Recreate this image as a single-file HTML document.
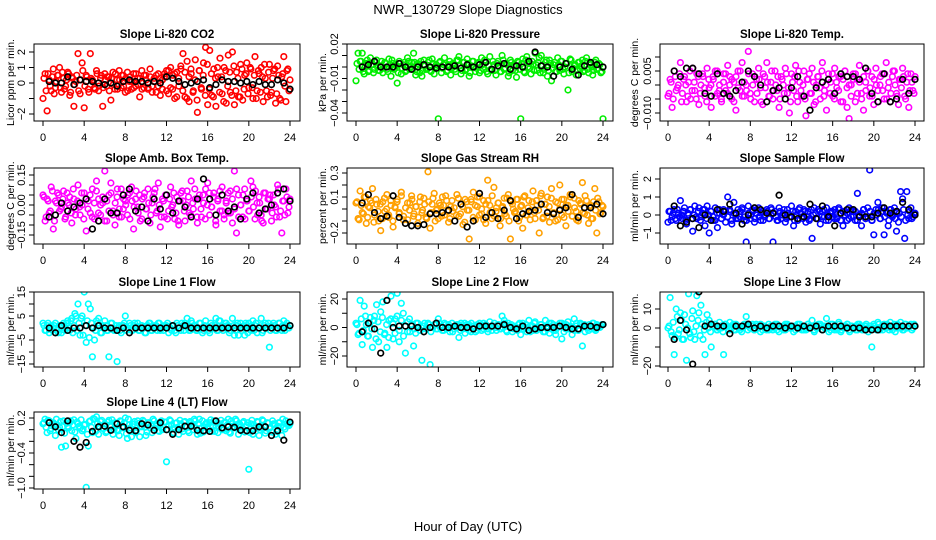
<!DOCTYPE html>
<html><head><meta charset="utf-8"><title>NWR_130729 Slope Diagnostics</title>
<style>
html,body{margin:0;padding:0;background:#fff;}
svg{display:block;font-family:"Liberation Sans",sans-serif;}
</style></head>
<body>
<svg id="chart" width="936" height="540" viewBox="0 0 936 540" xmlns="http://www.w3.org/2000/svg">
<text x="468" y="14" text-anchor="middle" font-size="13">NWR_130729  Slope Diagnostics</text>
<text x="468" y="531" text-anchor="middle" font-size="13">Hour of Day (UTC)</text>
</svg>
<script>
// ---- data (colored every ~0.2 h, black every 0.6 h) ----
const xTicks = [0,4,8,12,16,20,24];

const co2All = [-1.0,0.6,-1.8,0.2,-0.5,0.9,-0.3,0.5,1.0,-0.6,0.3,-0.2,0.7,-0.8,0.4,-1.5,0.1,1.9,-0.7,1.3,-1.6,0.5,-0.4,1.9,0.2,-0.3,0.8,-0.5,0.3,-1.5,0.6,-0.2,0.4,-1.1,0.7,-0.4,0.2,0.8,-0.3,0.5,-0.6,0.7,0.1,-0.4,0.6,-0.2,0.3,-0.9,0.8,-0.3,0.5,-0.4,0.9,-0.2,0.3,-0.6,0.6,-0.8,0.2,0.4,-0.5,0.8,-0.3,0.5,-1.0,0.7,-0.2,0.9,1.9,-0.9,1.4,-1.2,0.6,-0.5,1.5,-1.9,0.8,-0.4,1.3,2.3,-1.4,2.1,-0.8,0.9,-1.5,0.4,1.6,-0.7,1.0,-1.3,1.8,-0.6,2.0,-1.4,0.7,-0.9,1.2,-1.1,0.5,1.3,-0.3,0.9,-1.0,1.7,-0.5,0.6,1.0,-1.2,0.3,-0.9,1.2,-0.6,0.8,-1.3,1.1,-1.0,0.4,1.7,-1.2,0.9,0.2];
const co2Band = [0.3,-0.5,0.6,-0.2,0.4,-0.7,0.1,0.5,-0.3,0.7,-0.4,0.2,0.6,-0.6,0.3,-0.1,0.5,-0.5,0.2,0.8,-0.2,0.4,-0.6,0.3,0.1,-0.4,0.6,-0.2,0.5,-0.3,0.2,0.4,-0.5,0.3,-0.1,0.6,-0.4,0.2,0.5,-0.2,0.3,-0.5,0.4,0.1,-0.3,0.6,-0.1,0.3,-0.4,0.5,0.2,-0.3,0.4,-0.6,0.1,0.5,-0.2,0.3,-0.4,0.6,0.8,-0.7,1.0,-0.4,0.6,-0.9,0.3,1.1,-0.5,0.7,-1.0,0.4,0.9,-0.6,0.2,-1.1,0.8,-0.3,0.5,-0.8,1.2,-0.4,0.6,-0.9,0.3,1.0,-0.6,0.4,-1.2,0.8,-0.2,0.7,-0.8,1.1,-0.5,0.3,-0.9,0.9,-0.4,0.6,-0.7,1.0,-0.3,0.5,-1.0,0.8,-0.6,0.4,1.2,-0.5,0.7,-0.8,0.3,0.9,-0.7,0.5,-1.1,0.6,-0.2,0.8,-0.5];
const co2Sel = [0.1,0.0,0.0,0.4,-0.1,0.2,0.1,0.1,0.0,-0.1,0.0,-0.2,0.1,0.2,0.1,0.1,0.0,0.1,0.0,0.4,0.3,0.1,-0.1,0.0,0.1,0.2,-0.3,-0.1,0.2,0.1,0.1,0.0,0.1,-0.1,0.1,-0.1,-0.1,0.2,0.0,-0.4];

const presAll = [-12,12,5,12,-6,3,-4,8,2,-2,6,-3,1,-5,4,-2,7,-8,3,-1,-14,5,-6,2,-4,8,-2,4,12,-7,3,-5,-8,6,-2,4,-3,7,-6,2,-45,5,-1,8,-4,2,-7,3,-2,6,9,-6,4,-3,7,-8,1,5,-4,3,-5,8,-2,4,-6,9,-3,2,-7,5,-4,10,-2,3,-8,6,-3,1,-9,4,-45,7,-5,9,3,-6,2,12,-3,8,10,-5,4,-8,6,-12,2,-4,8,-3,5,-6,3,-20,7,-4,1,-7,4,-2,6,-3,8,-5,2,-7,4,-2,3,-5,-45];
const presBand = [3,-2,5,-4,1,6,-3,2,-5,4,0,-3,5,-1,3,-4,2,6,-2,1,-5,3,-1,4,-3,5,0,-2,4,-4,2,5,-3,1,-2,6,-4,3,0,-1,4,-5,2,3,-3,5,-1,2,-4,6,1,-3,4,-2,3,-5,5,0,-1,4,-3,2,6,-4,1,-2,5,-3,3,0,-4,6,-1,2,-5,4,1,-3,5,-2,3,-4,6,0,-1,5,-3,2,4,-5,1,-2,6,-3,3,-1,4,-4,2,5,-2,0,3,-5,6,-1,2,-3,4,1,-4,5,-2,3,0,-3,6,-1,2,-4];
const presSel = [0,2,5,0,0,0,3,0,-2,0,2,0,-1,0,0,1,-1,2,0,2,4,-2,1,3,-2,1,0,5,13,1,0,-8,0,3,-2,-7,1,4,2,0];

const tempAll = [-4,2,-8,5,-2,0,8,-3,3,-6,1,-5,6,-2,4,-7,0,3,-4,6,-1,-8,2,5,-3,0,-6,4,-2,7,3,-5,1,-9,5,-2,8,-4,0,12,-3,4,-6,2,6,-1,-7,3,8,-4,1,-5,5,-2,-8,3,0,6,-3,-10,4,-2,7,-6,1,-4,5,-11,2,-3,6,-7,0,3,-5,8,-2,-9,4,1,-4,6,-1,3,-6,2,5,-8,-12,0,4,-6,2,7,-3,-9,1,5,-4,3,-7,6,-2,0,4,-5,8,-1,-6,3,5,-3,-7,2,6,-4,1,-8,4,-2,3];
const tempBand = [-3,1,-5,3,-1,4,-6,2,0,-4,5,-2,1,-5,3,-3,4,-1,-6,2,0,3,-4,5,-2,-5,1,4,-3,0,2,-6,3,-1,5,-4,1,-2,4,-5,0,3,-3,2,-6,4,-1,1,-4,5,-2,0,3,-5,2,-3,4,-1,-6,1,3,-4,5,-2,0,-5,2,4,-3,1,-6,3,-1,5,-4,0,2,-3,4,-5,1,-2,3,-6,5,-1,0,-4,2,4,-3,1,-5,3,-2,5,-1,-4,2,0,-6,3,-2,4,-5,1,-3,5,0,-4,2,-1,3,-5,4,-2,1,-3];
const tempSel = [5,3,6,6,4,-3,-4,4,-3,-4,-2,1,5,3,0,-6,-2,-1,-5,-1,3,-4,-9,-1,1,2,-3,4,3,3,2,6,-3,-6,4,-6,-5,2,-3,2];

const ambAll = [5,-8,3,-4,9,-12,2,6,-3,-1,7,-6,1,4,-9,3,-2,10,-5,0,6,-13,2,-4,8,-7,12,3,-5,1,17,-8,5,11,-3,-10,4,-6,8,-2,2,-5,6,9,-12,3,-1,5,-7,4,-2,8,-9,1,6,-4,11,-11,3,-6,5,-3,9,0,-7,4,-10,6,2,-8,7,-4,12,-2,3,-9,5,-6,1,8,11,-5,-1,6,-10,3,-3,9,-7,2,-4,7,-9,17,-14,5,0,-6,8,2,-3,12,9,-7,1,4,-5,-9,6,-2,3,-8,5,-1,10,-6,-14,2,8,-4,3];
const ambBand = [4,-6,2,-3,7,-8,1,5,-2,3,-7,6,0,-4,8,-5,2,-1,6,-7,3,-2,5,-6,1,7,-4,0,4,-8,2,-3,6,-5,1,8,-2,-6,3,0,5,-7,2,-1,7,-4,-8,3,6,-2,1,-5,4,8,-3,0,-6,2,5,-7,3,-1,6,-4,-8,2,7,-3,0,4,-5,1,8,-6,3,-2,5,-7,0,6,-1,4,-8,2,7,-3,-5,1,6,-4,3,-2,8,-6,0,5,-7,2,-3,4,-1,7,-5,1,-8,6,-2,3,5,-4,0,-6,8,-3,2,-5,4,-1];
const ambSel = [-6,-5,1,-3,-1,1,3,-12,-8,3,-4,-4,5,8,-3,-1,-8,3,-2,5,-4,2,-1,-6,3,13,3,-5,5,-3,-1,-7,3,6,-4,-2,0,6,8,2];

const rhAll = [5,-8,15,-3,10,-12,2,7,17,-5,4,-10,-18,6,-2,12,-7,3,-15,1,8,-4,14,-9,-35,5,-1,11,-6,2,-12,6,-3,9,-7,31,-16,4,13,-1,-8,3,10,-5,7,-11,2,-2,-35,12,-6,4,-13,8,-1,-25,6,14,-9,2,10,-4,7,-12,24,3,-8,18,-2,5,-14,1,9,-6,12,-25,4,-3,8,-10,2,-16,11,-5,7,-1,15,-8,3,-20,13,-7,4,10,-11,17,-3,6,-9,20,-5,8,-14,3,12,-6,9,-2,-10,5,22,-4,7,-12,3,-8,17,-20,6,-3,2];
const rhBand = [6,-9,3,-4,10,-7,1,5,-11,8,-2,4,-8,9,0,-5,7,-10,2,6,-3,11,-6,1,-9,5,8,-4,2,-7,10,-1,4,-8,6,-3,9,-10,0,5,-6,3,11,-2,-8,7,1,-5,9,-4,2,-11,6,-1,8,-7,3,10,-5,0,-9,4,7,-3,11,-6,1,5,-8,2,-4,9,-10,6,0,-2,8,-7,3,10,-5,1,-9,6,-3,7,-1,11,-8,4,-6,2,9,-4,-10,5,0,8,-7,3,-2,10,-6,1,-9,7,4,-3,11,-5,2,-8,6,-1,9,-4,3];
const rhSel = [5,12,-3,-8,-6,11,-7,-12,-14,-14,-13,-4,-4,-3,-1,-10,4,-15,-10,13,-7,-3,-8,-1,7,-8,-4,-2,-1,4,-3,-4,-1,1,12,-7,1,1,4,-4];

const sflowAll = [-4,2,-1,3,-3,1,8,-2,4,-5,0,3,-9,5,-2,4,-1,3,-6,5,-10,2,-3,4,-7,1,-2,3,-4,10,2,-5,7,-2,3,-1,4,-3,-15,5,-2,3,-4,1,4,-3,2,-1,3,-2,4,-15,2,-3,4,-2,1,-4,3,-1,5,-6,2,-3,4,-1,3,-4,2,-2,-13,4,-2,3,-5,2,-1,4,-3,2,-1,3,-2,4,-3,-6,2,-3,4,-1,2,-3,12,-1,-6,3,-2,4,25,-3,-11,3,7,-2,4,-11,2,-6,3,-1,4,-9,-4,13,9,-13,13,-2,4,-1,1];
const sflowBand = [2,-3,1,-2,3,-1,0,2,-3,1,3,-2,0,-1,2,-3,1,3,-2,0,2,-1,-3,1,3,-2,0,2,-1,3,-3,1,0,-2,2,3,-1,-3,1,0,2,-2,3,-1,1,-3,0,2,-2,3,1,-1,-3,2,0,3,-2,1,-1,2,-3,0,3,1,-2,2,-1,-3,3,0,1,-2,2,-1,3,-3,0,1,2,-2,-1,3,-3,2,0,1,-2,3,-1,2,-3,0,1,3,-2,-1,2,-3,1,0,3,-2,2,-1,1,-3,3,0,-2,2,1,-1,3,-3,0,2,-2,1];
const sflowSel = [5,-6,-4,-2,-7,0,-3,3,2,6,1,-5,0,4,3,1,1,11,0,-1,-2,-1,6,-2,5,-1,-6,1,3,3,-1,-1,-1,1,4,1,2,7,3,0];

const l1All = [2,-1,1,-2,1,0,2,-1,1,-2,2,0,3,-1,4,1,5,10,-3,5,15,-6,10,8,-12,-5,3,4,-2,1,3,-1,-12,2,0,-1,-14,1,-2,1,5,0,2,-1,1,0,2,-1,1,0,-2,1,2,-1,0,1,2,-1,0,1,1,-2,0,1,-1,2,0,-1,1,2,4,-1,3,0,1,-1,2,0,-1,3,0,-2,1,0,4,-1,3,1,0,2,1,-1,4,-3,1,-3,2,0,-3,1,2,-1,3,1,-2,0,4,-1,2,0,-8,1,2,-1,0,2,-1,3,1,0,1];
const l1Band = [1,-1,2,0,-1,1,0,-2,1,1,-1,2,0,3,-2,6,-1,2,4,-3,1,3,-4,2,0,-1,2,1,-2,0,1,-1,0,2,-1,1,0,-1,1,2,-1,0,1,-1,2,0,-1,1,0,-2,1,2,-1,0,1,-1,2,0,-1,1,2,0,-1,1,-2,1,0,2,-1,1,0,-1,2,1,-1,0,2,-2,1,0,-1,2,0,1,-1,3,0,-1,2,1,-2,0,1,-1,2,0,-1,1,2,-2,0,1,-1,2,0,1,-2,1,0,2,-1,0,1,-1,2,0,1,-1,2,0];
const l1Sel = [0,-2,1,-1,0,0,1,0,1,0,0,-1,0,-2,0,0,0,0,0,0,1,0,1,0,0,0,0,0,0,0,0,0,0,0,0,0,0,0,0,1];

const l2All = [3,-5,19,-12,15,2,-6,7,-14,8,16,-10,11,18,-4,-14,5,22,-8,6,24,-10,17,10,-18,-3,6,2,-13,-4,3,-2,-23,1,-1,3,-26,0,2,-1,6,0,-2,3,-1,2,0,-3,1,2,-7,3,-1,-4,2,-2,3,1,-3,2,1,-2,3,0,-1,4,-2,1,0,2,-1,8,5,-2,3,0,-3,1,-1,2,-5,3,0,-3,5,1,-2,4,0,-1,2,-3,5,-1,-4,3,-2,-5,1,3,-8,2,-1,4,0,-5,6,1,-2,3,-13,2,0,-2,1,3,-1,2,0,1,2];
const l2Band = [2,-4,6,-2,8,-6,3,-1,5,-8,4,-3,7,-5,2,-7,6,3,-4,8,-2,5,-6,1,4,-3,2,-1,3,0,-2,1,3,-1,2,-3,0,2,-1,3,1,-2,2,0,-3,3,-1,1,2,-2,0,3,-1,2,-3,1,0,-2,3,1,-1,2,-3,0,1,3,-2,2,-1,0,3,-3,1,2,-1,0,-2,3,1,-1,2,0,-3,1,3,-2,-1,2,0,-3,1,3,-1,2,-2,0,1,3,-3,2,-1,1,0,-2,3,-1,2,1,-3,0,2,-1,3,-2,1,0,2];
const l2Sel = [-3,3,-1,-18,19,0,1,1,1,0,-3,0,3,0,0,1,0,0,-1,1,1,1,1,2,0,-1,1,-2,-1,0,0,0,1,0,-1,-1,1,1,0,2];

const l3All = [0,16,-4,-14,10,-3,8,-6,7,-17,18,-5,9,-6,17,8,12,-6,-14,7,4,-10,1,2,-1,3,0,-14,2,1,3,0,-1,2,1,-1,0,2,6,1,0,2,-1,1,0,2,-1,1,0,-1,1,0,2,-1,1,0,-1,2,1,0,0,1,-1,2,0,1,-1,0,2,1,4,-1,1,0,2,-1,1,5,0,-1,2,-1,0,3,-2,1,0,2,-1,1,0,1,-1,2,0,-1,1,0,1,-10,2,0,3,-1,1,2,0,1,3,-1,2,0,1,3,-1,2,0,1,2,0,1];
const l3Band = [1,-2,3,-5,6,-1,4,-6,2,0,-3,5,-2,1,4,-4,2,-1,3,0,-2,1,2,-1,0,1,-2,2,1,-1,0,2,-1,1,0,-2,1,2,-1,0,1,-1,2,0,-2,1,1,-1,2,0,-1,1,2,-2,0,1,-1,2,1,0,-2,1,0,2,-1,1,-1,2,0,1,-2,0,2,1,-1,0,1,-2,2,0,1,-1,2,-1,0,1,2,-2,1,0,-1,2,1,-1,0,2,-2,1,0,1,-1,2,0,-1,1,2,-1,0,1,-2,2,1,0,-1,2,0,1,-1,2];
const l3Sel = [-6,4,-1,-19,19,1,2,1,1,-3,1,1,2,0,1,0,1,1,0,1,0,1,0,1,-1,1,1,1,0,0,0,-1,-1,-1,1,1,1,1,1,1];

const l4All = [10,18,-5,15,2,12,-10,8,4,-30,15,-28,6,12,-2,17,-15,10,3,-2,8,-99,-28,15,-5,18,22,-8,14,2,10,-3,16,5,-8,12,0,-10,14,3,20,-15,8,-12,10,-5,15,-12,5,14,-10,12,3,-5,15,6,-2,10,0,13,-55,8,15,-6,3,12,-8,10,-3,14,5,-5,12,0,15,-8,18,3,-4,10,2,12,-3,15,6,-5,10,0,12,-2,18,-6,10,3,15,-8,5,12,-4,8,-68,10,-8,5,14,-10,3,15,-6,12,2,-4,10,-8,6,12,-10,4,15,8,10];
const l4Band = [12,4,16,-2,10,7,18,0,14,5,-6,11,3,15,8,-4,13,6,17,1,9,-8,14,4,19,-3,11,6,16,2,-5,13,8,17,0,10,-2,15,5,12,-7,18,3,9,14,-1,11,6,16,4,-4,12,7,18,2,10,-3,15,5,13,0,17,8,-5,11,4,16,1,13,6,-2,14,9,18,3,10,-6,15,5,12,1,17,7,-3,11,4,16,0,13,8,-4,15,6,18,2,10,-1,14,5,12,-5,16,8,3,13,0,17,6,-2,11,4,15,9,-3,12,5,18,1,10,7];
const l4Sel = [12,5,-5,15,-20,-30,-22,-3,5,6,-1,10,5,-1,-2,10,8,-1,12,0,-8,0,6,6,-1,-2,-3,15,3,5,4,-1,-2,-2,5,5,-10,-2,-18,13];

// ---- layout ----
const cols = [{l:34,r:300,x0:43,x24:290,yt:10},{l:347,r:613,x0:356,x24:603,yt:322},{l:660,r:924,x0:668,x24:915,yt:634}];
const rows = [{t:44,b:121},{t:168,b:244},{t:292,b:367},{t:412,b:489}];

const panels = [
 {id:'co2',title:'Slope Li-820 CO2',yl:'Licor ppm per min.',c:0,r:0,col:'#ff0000',all:co2All,band:co2Band,sel:co2Sel,k:1,ref:[2,52,-2,114],ticks:[-2,-1,0,1,2],labels:[[-2,'\u22122'],[0,'0'],[1,'1'],[2,'2']]},
 {id:'pressure',title:'Slope Li-820 Pressure',yl:'kPa per min.',c:1,r:0,col:'#00ee00',all:presAll,band:presBand,sel:presSel,k:0.001,ref:[0.02,44,-0.04,113],ticks:[0.02,0.01,0,-0.01,-0.02,-0.03,-0.04],labels:[[0.02,'0.02'],[-0.01,'\u22120.01'],[-0.04,'\u22120.04']]},
 {id:'temp',title:'Slope Li-820 Temp.',yl:'degrees C per min.',c:2,r:0,col:'#ff00ff',all:tempAll,band:tempBand,sel:tempSel,k:0.001,ref:[0.005,71,-0.010,113],ticks:[0.010,0.005,0,-0.005,-0.010],labels:[[0.005,'0.005'],[-0.010,'\u22120.010']]},
 {id:'ambtemp',title:'Slope Amb. Box Temp.',yl:'degrees C per min.',c:0,r:1,col:'#ff00ff',all:ambAll,band:ambBand,sel:ambSel,k:0.01,ref:[0.15,175,-0.15,235],ticks:[0.15,0.10,0.05,0,-0.05,-0.10,-0.15],labels:[[0.15,'0.15'],[0,'0.00'],[-0.15,'\u22120.15']]},
 {id:'rh',title:'Slope Gas Stream RH',yl:'percent per min.',c:1,r:1,col:'#ffa000',all:rhAll,band:rhBand,sel:rhSel,k:0.01,ref:[0.1,197,-0.2,233],ticks:[0.3,0.2,0.1,0,-0.1,-0.2],labels:[[0.3,'0.3'],[0.1,'0.1'],[-0.2,'\u22120.2']]},
 {id:'sampleflow',title:'Slope Sample Flow',yl:'ml/min per min.',c:2,r:1,col:'#0000ff',all:sflowAll,band:sflowBand,sel:sflowSel,k:0.1,ref:[2,179,-1,233],ticks:[2,1,0,-1],labels:[[2,'2'],[1,'1'],[0,'0'],[-1,'\u22121']]},
 {id:'line1',title:'Slope Line 1 Flow',yl:'ml/min per min.',c:0,r:2,col:'#00ffff',all:l1All,band:l1Band,sel:l1Sel,k:1,ref:[15,292,-15,364],ticks:[15,10,5,0,-5,-10,-15],labels:[[15,'15'],[5,'5'],[-5,'\u22125'],[-15,'\u221215']]},
 {id:'line2',title:'Slope Line 2 Flow',yl:'ml/min per min.',c:1,r:2,col:'#00ffff',all:l2All,band:l2Band,sel:l2Sel,k:1,ref:[20,299,-20,356],ticks:[20,10,0,-10,-20],labels:[[20,'20'],[0,'0'],[-20,'\u221220']]},
 {id:'line3',title:'Slope Line 3 Flow',yl:'ml/min per min.',c:2,r:2,col:'#00ffff',all:l3All,band:l3Band,sel:l3Sel,k:1,ref:[10,309,-20,366],ticks:[10,0,-10,-20],labels:[[10,'10'],[0,'0'],[-20,'\u221220']]},
 {id:'line4',title:'Slope Line 4 (LT) Flow',yl:'ml/min per min.',c:0,r:3,col:'#00ffff',all:l4All,band:l4Band,sel:l4Sel,k:0.01,ref:[0.2,418,-1.0,488],ticks:[0.2,0,-0.2,-0.4,-0.6,-0.8,-1.0],labels:[[0.2,'0.2'],[-0.4,'\u22120.4'],[-1.0,'\u22121.0']]}
];

const NS='http://www.w3.org/2000/svg';
const svg=document.getElementById('chart');
function mk(tag,attrs,parent){const e=document.createElementNS(NS,tag);for(const a in attrs)e.setAttribute(a,attrs[a]);(parent||svg).appendChild(e);return e;}

panels.forEach(p=>{
  const C=cols[p.c],R=rows[p.r];
  const g=mk('g',{});
  
  
  const xs=h=>C.x0+(C.x24-C.x0)*h/24;
  const [v1,p1,v2,p2]=p.ref;
  const ys=v=>p1+(v-v1)*(p2-p1)/(v2-v1);
  const clipId='clip-'+p.id;
  const cp=mk('clipPath',{id:clipId},g);
  mk('rect',{x:C.l,y:R.t,width:C.r-C.l,height:R.b-R.t},cp);
  const t=mk('text',{x:(C.l+C.r)/2,y:R.t-6,'text-anchor':'middle','font-size':'11.5','font-weight':'bold'},g);
  t.textContent=p.title;
  
  
  const yt=mk('text',{x:0,y:0,'text-anchor':'middle','font-size':'10.5',transform:`translate(${C.yt+4},${(R.t+R.b)/2}) rotate(-90)`},g);
  yt.textContent=p.yl;
  
  
  const pts=mk('g',{'clip-path':`url(#${clipId})`,fill:'none'},g);
  
  
  const nb=p.band.length;
  p.band.forEach((v,i)=>{
    const c=mk('circle',{cx:xs(0.1+i*23.8/(nb-1)).toFixed(1),cy:ys(v*p.k).toFixed(1),r:2.8,stroke:p.col,'stroke-width':1.6},pts);
    
    
  });
  const n=p.all.length;
  p.all.forEach((v,i)=>{
    const c=mk('circle',{cx:xs(i*24/(n-1)).toFixed(1),cy:ys(v*p.k).toFixed(1),r:2.8,stroke:p.col,'stroke-width':1.6},pts);
    
    
  });
  p.sel.forEach((v,i)=>{
    const c=mk('circle',{cx:xs((i+1)*0.6).toFixed(1),cy:ys(v*p.k).toFixed(1),r:2.8,stroke:'#000','stroke-width':1.7},pts);
    
    
  });
  const b=mk('rect',{x:C.l,y:R.t,width:C.r-C.l,height:R.b-R.t,fill:'none',stroke:'#000','stroke-width':1},g);
  
  
  xTicks.forEach(h=>{
    const x=xs(h);
    const l=mk('line',{x1:x,x2:x,y1:R.b,y2:R.b+5,stroke:'#000'},g);
    
    
    const tx=mk('text',{x:x,y:R.b+20,'text-anchor':'middle','font-size':'11'},g);
    tx.textContent=h;
    
    
  });
  p.ticks.forEach(v=>{
    const y=ys(v);
    const l=mk('line',{x1:C.l-5,x2:C.l,y1:y,y2:y,stroke:'#000'},g);
    
    
  });
  p.labels.forEach(([v,s])=>{
    const y=ys(v);
    const tx=mk('text',{x:0,y:0,'text-anchor':'middle','font-size':'11',transform:`translate(${C.l-9},${y}) rotate(-90)`},g);
    tx.textContent=s;
    
    
  });
});
</script>
</body></html>
